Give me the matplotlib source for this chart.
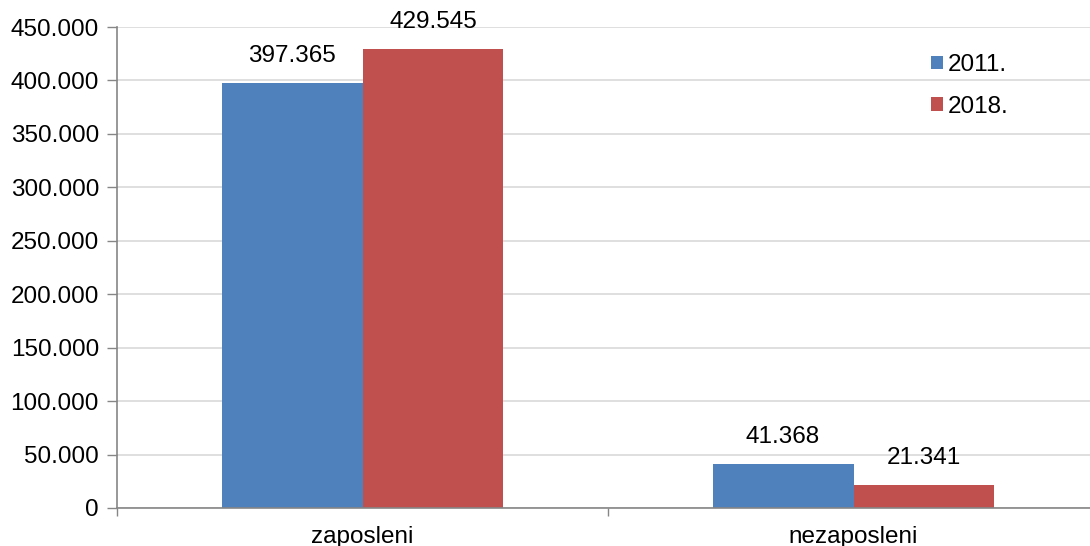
import numpy as np
import matplotlib.pyplot as plt
from matplotlib.ticker import FuncFormatter, FixedLocator

plt.rcParams['font.family'] = ['Liberation Sans', 'DejaVu Sans']

categories = ['zaposleni', 'nezaposleni']
series = ['2011.', '2018.']
vals_2011 = [397365, 41368]
vals_2018 = [429545, 21341]
colors = ['#4F81BD', '#C0504D']

FS = 17.5
W, H = 1090, 546
fig = plt.figure(figsize=(W / 100, H / 100), dpi=100)
ax = fig.add_axes([117 / W, (H - 508) / H, (1099 - 117) / W, (508 - 27) / H])

x = np.arange(len(categories))
bw = 0.287
b1 = ax.bar(x - bw / 2, vals_2011, bw, color=colors[0], label=series[0], zorder=2)
b2 = ax.bar(x + bw / 2, vals_2018, bw, color=colors[1], label=series[1], zorder=2)

def fmt(v):
    return '{:,.0f}'.format(v).replace(',', '.')

for bars in (b1, b2):
    for r in bars:
        ax.annotate(fmt(r.get_height()), (r.get_x() + r.get_width() / 2, r.get_height()),
                    xytext=(0, 19.5), textcoords='offset points', ha='center', va='center',
                    fontsize=FS)

ax.set_xlim(-0.5, len(categories) - 0.5)
ax.set_ylim(0, 450000)
ax.set_yticks(np.arange(0, 450001, 50000))
ax.yaxis.set_major_formatter(FuncFormatter(lambda v, p: fmt(v)))
ax.set_xticks(x)
ax.set_xticklabels(categories)
ax.xaxis.set_minor_locator(FixedLocator([-0.5, 0.5, 1.5]))
ax.tick_params(axis='x', which='major', length=0, pad=13, labelsize=FS)
ax.tick_params(axis='x', which='minor', length=6, color='#868686', width=1)
ax.tick_params(axis='y', length=7, color='#868686', width=1, labelsize=FS, pad=6)

ax.grid(axis='y', color='#D9D9D9', lw=1.2, zorder=0)
ax.set_axisbelow(True)
for s in ('top', 'right'):
    ax.spines[s].set_visible(False)
for s in ('left', 'bottom'):
    ax.spines[s].set_color('#868686')
    ax.spines[s].set_linewidth(1.2)

ax.legend(loc='upper left', bbox_to_anchor=(919 / W, 1 - 42 / H), bbox_transform=fig.transFigure,
          frameon=False, fontsize=FS, handlelength=0.5, handleheight=0.5,
          handletextpad=0.2, labelspacing=0.8, borderpad=0)

fig.savefig('out.png', dpi=100)
